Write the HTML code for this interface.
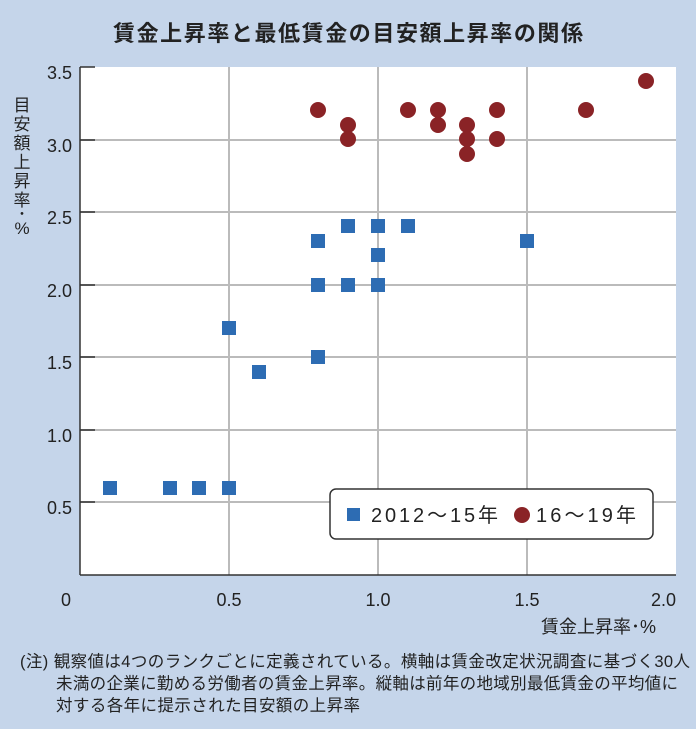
<!DOCTYPE html>
<html><head><meta charset="utf-8"><style>
body{margin:0;width:696px;height:724px;background:#c5d5ea;overflow:hidden}
svg text{font-family:"Liberation Sans","Noto Sans CJK JP",sans-serif;fill:#222}
</style></head><body>
<svg width="696" height="724" xmlns="http://www.w3.org/2000/svg">
<rect width="696" height="724" fill="#c5d5ea"/>
<text x="348" y="41" text-anchor="middle" font-size="22" font-weight="bold" textLength="470" style="font-family:'Noto Sans CJK JP',sans-serif">賃金上昇率と最低賃金の目安額上昇率の関係</text>
<rect x="80" y="67" width="596" height="508" fill="#fff"/>
<g stroke="#bbb" stroke-width="2">
<line x1="229" y1="67" x2="229" y2="575"/><line x1="378" y1="67" x2="378" y2="575"/><line x1="527" y1="67" x2="527" y2="575"/>
<line x1="80" y1="140" x2="676" y2="140"/><line x1="80" y1="212" x2="676" y2="212"/><line x1="80" y1="285" x2="676" y2="285"/><line x1="80" y1="357" x2="676" y2="357"/><line x1="80" y1="430" x2="676" y2="430"/><line x1="80" y1="502" x2="676" y2="502"/>
</g>
<g stroke="#333" stroke-width="1.5">
<line x1="80" y1="67" x2="80" y2="575"/><line x1="80" y1="575" x2="676" y2="575"/>
<line x1="80" y1="67" x2="95" y2="67"/><line x1="80" y1="140" x2="95" y2="140"/><line x1="80" y1="212" x2="95" y2="212"/><line x1="80" y1="285" x2="95" y2="285"/><line x1="80" y1="357" x2="95" y2="357"/><line x1="80" y1="430" x2="95" y2="430"/><line x1="80" y1="502" x2="95" y2="502"/>
</g>
<g font-size="18" text-anchor="end">
<text x="72" y="79">3.5</text><text x="72" y="152">3.0</text><text x="72" y="224">2.5</text><text x="72" y="297">2.0</text><text x="72" y="369">1.5</text><text x="72" y="442">1.0</text><text x="72" y="514">0.5</text>
</g>
<g font-size="18" text-anchor="middle">
<text x="66" y="606">0</text><text x="229" y="606">0.5</text><text x="378" y="606">1.0</text><text x="527" y="606">1.5</text><text x="676" y="606" text-anchor="end">2.0</text>
</g>
<text x="656" y="633" font-size="18" text-anchor="end">賃金上昇率･%</text>
<g font-size="17" text-anchor="middle">
<text x="22" y="111">目</text><text x="22" y="130">安</text><text x="22" y="149">額</text><text x="22" y="168">上</text><text x="22" y="187">昇</text><text x="22" y="206">率</text><text x="22" y="220">･</text><text x="22" y="234">%</text>
</g>
<g fill="#2d6cb3">
<rect x="103" y="481" width="14" height="14"/><rect x="163" y="481" width="14" height="14"/><rect x="192" y="481" width="14" height="14"/><rect x="222" y="481" width="14" height="14"/>
<rect x="222" y="321" width="14" height="14"/><rect x="252" y="365" width="14" height="14"/><rect x="311" y="350" width="14" height="14"/>
<rect x="311" y="278" width="14" height="14"/><rect x="311" y="234" width="14" height="14"/><rect x="341" y="278" width="14" height="14"/><rect x="341" y="219" width="14" height="14"/>
<rect x="371" y="278" width="14" height="14"/><rect x="371" y="248" width="14" height="14"/><rect x="371" y="219" width="14" height="14"/><rect x="401" y="219" width="14" height="14"/><rect x="520" y="234" width="14" height="14"/>
</g>
<g fill="#8a2326">
<circle cx="318" cy="110" r="8"/><circle cx="348" cy="125" r="8"/><circle cx="348" cy="139" r="8"/><circle cx="408" cy="110" r="8"/><circle cx="438" cy="110" r="8"/><circle cx="438" cy="125" r="8"/>
<circle cx="467" cy="125" r="8"/><circle cx="467" cy="139" r="8"/><circle cx="467" cy="154" r="8"/><circle cx="497" cy="110" r="8"/><circle cx="497" cy="139" r="8"/><circle cx="586" cy="110" r="8"/><circle cx="646" cy="81" r="8"/>
</g>
<rect x="330" y="489" width="323" height="50" rx="6" fill="#fff" stroke="#333" stroke-width="1.5"/>
<rect x="347" y="508" width="13" height="13" fill="#2d6cb3"/>
<text x="371" y="522" font-size="20" textLength="127">2012～15年</text>
<circle cx="522" cy="515" r="8" fill="#8a2326"/>
<text x="536" y="522" font-size="20" textLength="100">16～19年</text>
<g font-size="16.5">
<text x="20" y="667" textLength="670">(注) 観察値は4つのランクごとに定義されている。横軸は賃金改定状況調査に基づく30人</text>
<text x="56" y="689" textLength="622">未満の企業に勤める労働者の賃金上昇率。縦軸は前年の地域別最低賃金の平均値に</text>
<text x="56" y="711" textLength="304">対する各年に提示された目安額の上昇率</text>
</g>
</svg>
</body></html>
